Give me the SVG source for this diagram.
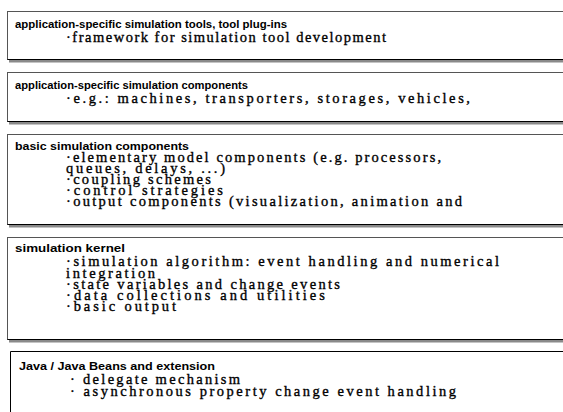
<svg xmlns="http://www.w3.org/2000/svg" width="563" height="412" viewBox="0 0 563 412">
  <style>
    .box { fill: #ffffff; stroke: #555555; stroke-width: 1; }
    .shadow { fill: #8a8a8a; }
    .base { stroke: #000000; stroke-width: 1.2; }
    .head { font-family: "Liberation Sans", Arial, sans-serif; font-weight: bold; font-size: 11.5px; fill: #000; }
    .item { font-family: "Liberation Serif", "Times New Roman", serif; font-size: 14.5px; fill: #000; stroke: #000; stroke-width: 0.35px; }
  </style>
  <rect width="563" height="412" fill="#ffffff"/>

  <!-- layer 1 -->
  <g id="tools">
    <rect class="shadow" x="9" y="59.5" width="560" height="3"/>
    <rect class="box" x="7.5" y="11.5" width="570" height="48"/>
    <line class="base" x1="7.5" y1="59.5" x2="563" y2="59.5"/>
    <text class="head" x="15" y="28" textLength="272" lengthAdjust="spacingAndGlyphs">application-specific simulation tools, tool plug-ins</text>
    <text class="item" x="66" y="42" textLength="320" lengthAdjust="spacing">·framework for simulation tool development</text>
  </g>

  <!-- layer 2 -->
  <g id="app-components">
    <rect class="shadow" x="9" y="121.5" width="560" height="3"/>
    <rect class="box" x="7.5" y="72.5" width="570" height="49"/>
    <line class="base" x1="7.5" y1="121.5" x2="563" y2="121.5"/>
    <text class="head" x="15" y="89" textLength="233" lengthAdjust="spacingAndGlyphs">application-specific simulation components</text>
    <text class="item" x="66" y="103" textLength="404" lengthAdjust="spacing">·e.g.: machines, transporters, storages, vehicles,</text>
  </g>

  <!-- layer 3 -->
  <g id="basic-components">
    <rect class="shadow" x="9" y="224.5" width="560" height="3"/>
    <rect class="box" x="7.5" y="134.5" width="570" height="90"/>
    <line class="base" x1="7.5" y1="224.5" x2="563" y2="224.5"/>
    <text class="head" x="15" y="150" textLength="174" lengthAdjust="spacingAndGlyphs">basic simulation components</text>
    <text class="item" x="66" y="162" textLength="375" lengthAdjust="spacing">·elementary model components (e.g. processors,</text>
    <text class="item" x="66" y="173" textLength="159" lengthAdjust="spacing">queues, delays, ...)</text>
    <text class="item" x="66" y="184" textLength="145" lengthAdjust="spacing">·coupling schemes</text>
    <text class="item" x="66" y="195" textLength="157" lengthAdjust="spacing">·control strategies</text>
    <text class="item" x="66" y="206" textLength="396" lengthAdjust="spacing">·output components (visualization, animation and</text>
  </g>

  <!-- layer 4 -->
  <g id="kernel">
    <rect class="shadow" x="9" y="339.5" width="560" height="3"/>
    <rect class="box" x="7.5" y="237.5" width="570" height="102"/>
    <line class="base" x1="7.5" y1="339.5" x2="563" y2="339.5"/>
    <text class="head" x="15" y="252" textLength="110" lengthAdjust="spacingAndGlyphs">simulation kernel</text>
    <text class="item" x="66" y="266" textLength="433" lengthAdjust="spacing">·simulation algorithm: event handling and numerical</text>
    <text class="item" x="66" y="278" textLength="89" lengthAdjust="spacing">integration</text>
    <text class="item" x="66" y="289" textLength="274" lengthAdjust="spacing">·state variables and change events</text>
    <text class="item" x="66" y="300" textLength="259" lengthAdjust="spacing">·data collections and utilities</text>
    <text class="item" x="66" y="311" textLength="110" lengthAdjust="spacing">·basic output</text>
  </g>

  <!-- layer 5 -->
  <g id="java">
    <path d="M10.5 412 V351.5 H563" fill="none" stroke="#000000" stroke-width="1"/>
    <text class="head" x="19" y="370" textLength="196" lengthAdjust="spacingAndGlyphs">Java / Java Beans and extension</text>
    <text class="item" x="70" y="384" textLength="170" lengthAdjust="spacing">· delegate mechanism</text>
    <text class="item" x="70" y="396" textLength="386" lengthAdjust="spacing">· asynchronous property change event handling</text>
  </g>

  <g id="connectors"/>
</svg>
